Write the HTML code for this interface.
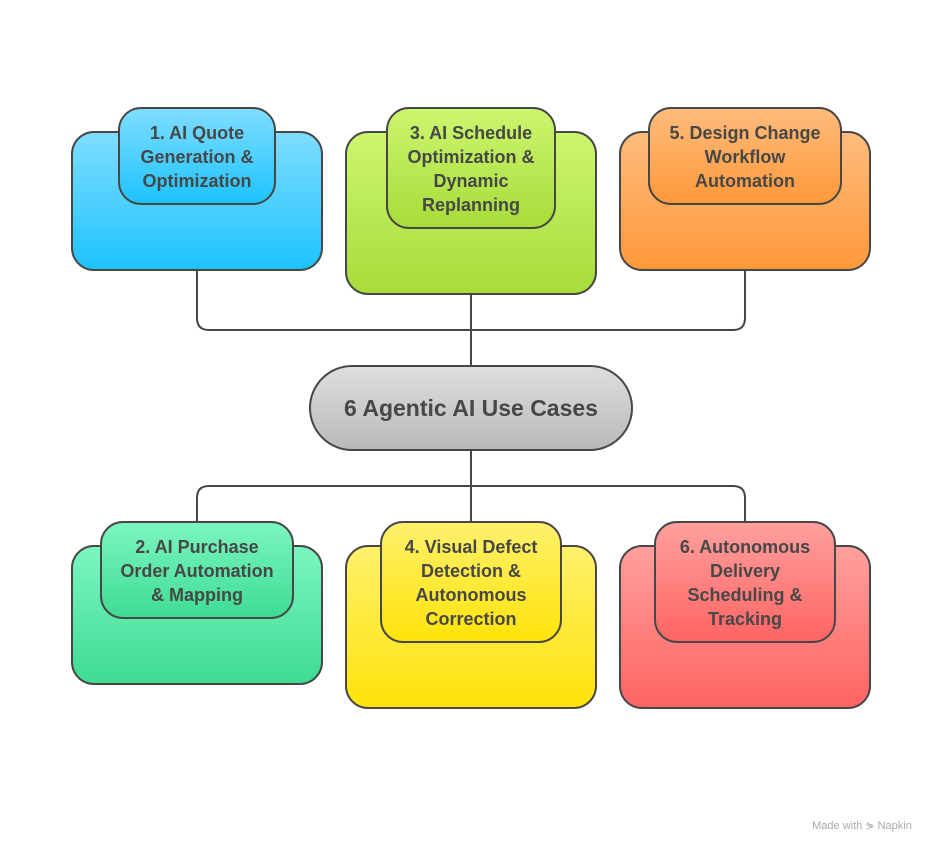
<!DOCTYPE html>
<html><head><meta charset="utf-8"><style>
html,body{margin:0;padding:0;background:#fff;}
svg{display:block;}
text{font-family:"Liberation Sans",sans-serif;font-weight:bold;fill:#474747;text-anchor:middle;}
</style></head><body>
<svg width="942" height="853" viewBox="0 0 942 853" xmlns="http://www.w3.org/2000/svg">
<defs>
<linearGradient id="gb" x1="0" y1="0" x2="0" y2="1"><stop offset="0" stop-color="#80DDFF"/><stop offset="1" stop-color="#1CC3FF"/></linearGradient>
<linearGradient id="gg" x1="0" y1="0" x2="0" y2="1"><stop offset="0" stop-color="#CDF66F"/><stop offset="1" stop-color="#A7DC3A"/></linearGradient>
<linearGradient id="go" x1="0" y1="0" x2="0" y2="1"><stop offset="0" stop-color="#FFBC7C"/><stop offset="1" stop-color="#FF983A"/></linearGradient>
<linearGradient id="gt" x1="0" y1="0" x2="0" y2="1"><stop offset="0" stop-color="#7CF6C1"/><stop offset="1" stop-color="#3EDB93"/></linearGradient>
<linearGradient id="gy" x1="0" y1="0" x2="0" y2="1"><stop offset="0" stop-color="#FFF06C"/><stop offset="1" stop-color="#FFE30A"/></linearGradient>
<linearGradient id="gr" x1="0" y1="0" x2="0" y2="1"><stop offset="0" stop-color="#FFA09E"/><stop offset="1" stop-color="#FF6462"/></linearGradient>
<linearGradient id="gc" x1="0" y1="0" x2="0" y2="1"><stop offset="0" stop-color="#DEDEDE"/><stop offset="1" stop-color="#B9B9B9"/></linearGradient>
</defs>
<g fill="none" stroke="#474747" stroke-width="2">
<path d="M197 270 V318 Q197 330 209 330 H733 Q745 330 745 318 V270"/>
<path d="M471 294 V366"/>
<path d="M471 450 V546"/>
<path d="M197 546 V498 Q197 486 209 486 H733 Q745 486 745 498 V546"/>
</g>
<g stroke="#474747" stroke-width="2">
<rect x="72" y="132" width="250" height="138" rx="22" fill="url(#gb)"/>
<rect x="119" y="108" width="156" height="96" rx="22" fill="url(#gb)"/>
<rect x="346" y="132" width="250" height="162" rx="22" fill="url(#gg)"/>
<rect x="387" y="108" width="168" height="120" rx="22" fill="url(#gg)"/>
<rect x="620" y="132" width="250" height="138" rx="22" fill="url(#go)"/>
<rect x="649" y="108" width="192" height="96" rx="22" fill="url(#go)"/>
<rect x="310" y="366" width="322" height="84" rx="42" fill="url(#gc)"/>
<rect x="72" y="546" width="250" height="138" rx="22" fill="url(#gt)"/>
<rect x="101" y="522" width="192" height="96" rx="22" fill="url(#gt)"/>
<rect x="346" y="546" width="250" height="162" rx="22" fill="url(#gy)"/>
<rect x="381" y="522" width="180" height="120" rx="22" fill="url(#gy)"/>
<rect x="620" y="546" width="250" height="162" rx="22" fill="url(#gr)"/>
<rect x="655" y="522" width="180" height="120" rx="22" fill="url(#gr)"/>
</g>
<g font-size="18">
<text x="197" y="139">1. AI Quote</text><text x="197" y="163">Generation &amp;</text><text x="197" y="187">Optimization</text>
<text x="471" y="139">3. AI Schedule</text><text x="471" y="163">Optimization &amp;</text><text x="471" y="187">Dynamic</text><text x="471" y="211">Replanning</text>
<text x="745" y="139">5. Design Change</text><text x="745" y="163">Workflow</text><text x="745" y="187">Automation</text>
<text x="197" y="553">2. AI Purchase</text><text x="197" y="577">Order Automation</text><text x="197" y="601">&amp; Mapping</text>
<text x="471" y="553">4. Visual Defect</text><text x="471" y="577">Detection &amp;</text><text x="471" y="601">Autonomous</text><text x="471" y="625">Correction</text>
<text x="745" y="553">6. Autonomous</text><text x="745" y="577">Delivery</text><text x="745" y="601">Scheduling &amp;</text><text x="745" y="625">Tracking</text>
</g>
<text x="471" y="416" font-size="23">6 Agentic AI Use Cases</text>
<text x="862" y="829" font-size="11" style="font-weight:normal;fill:#aaa">Made with ⋟ Napkin</text>
</svg>
</body></html>
